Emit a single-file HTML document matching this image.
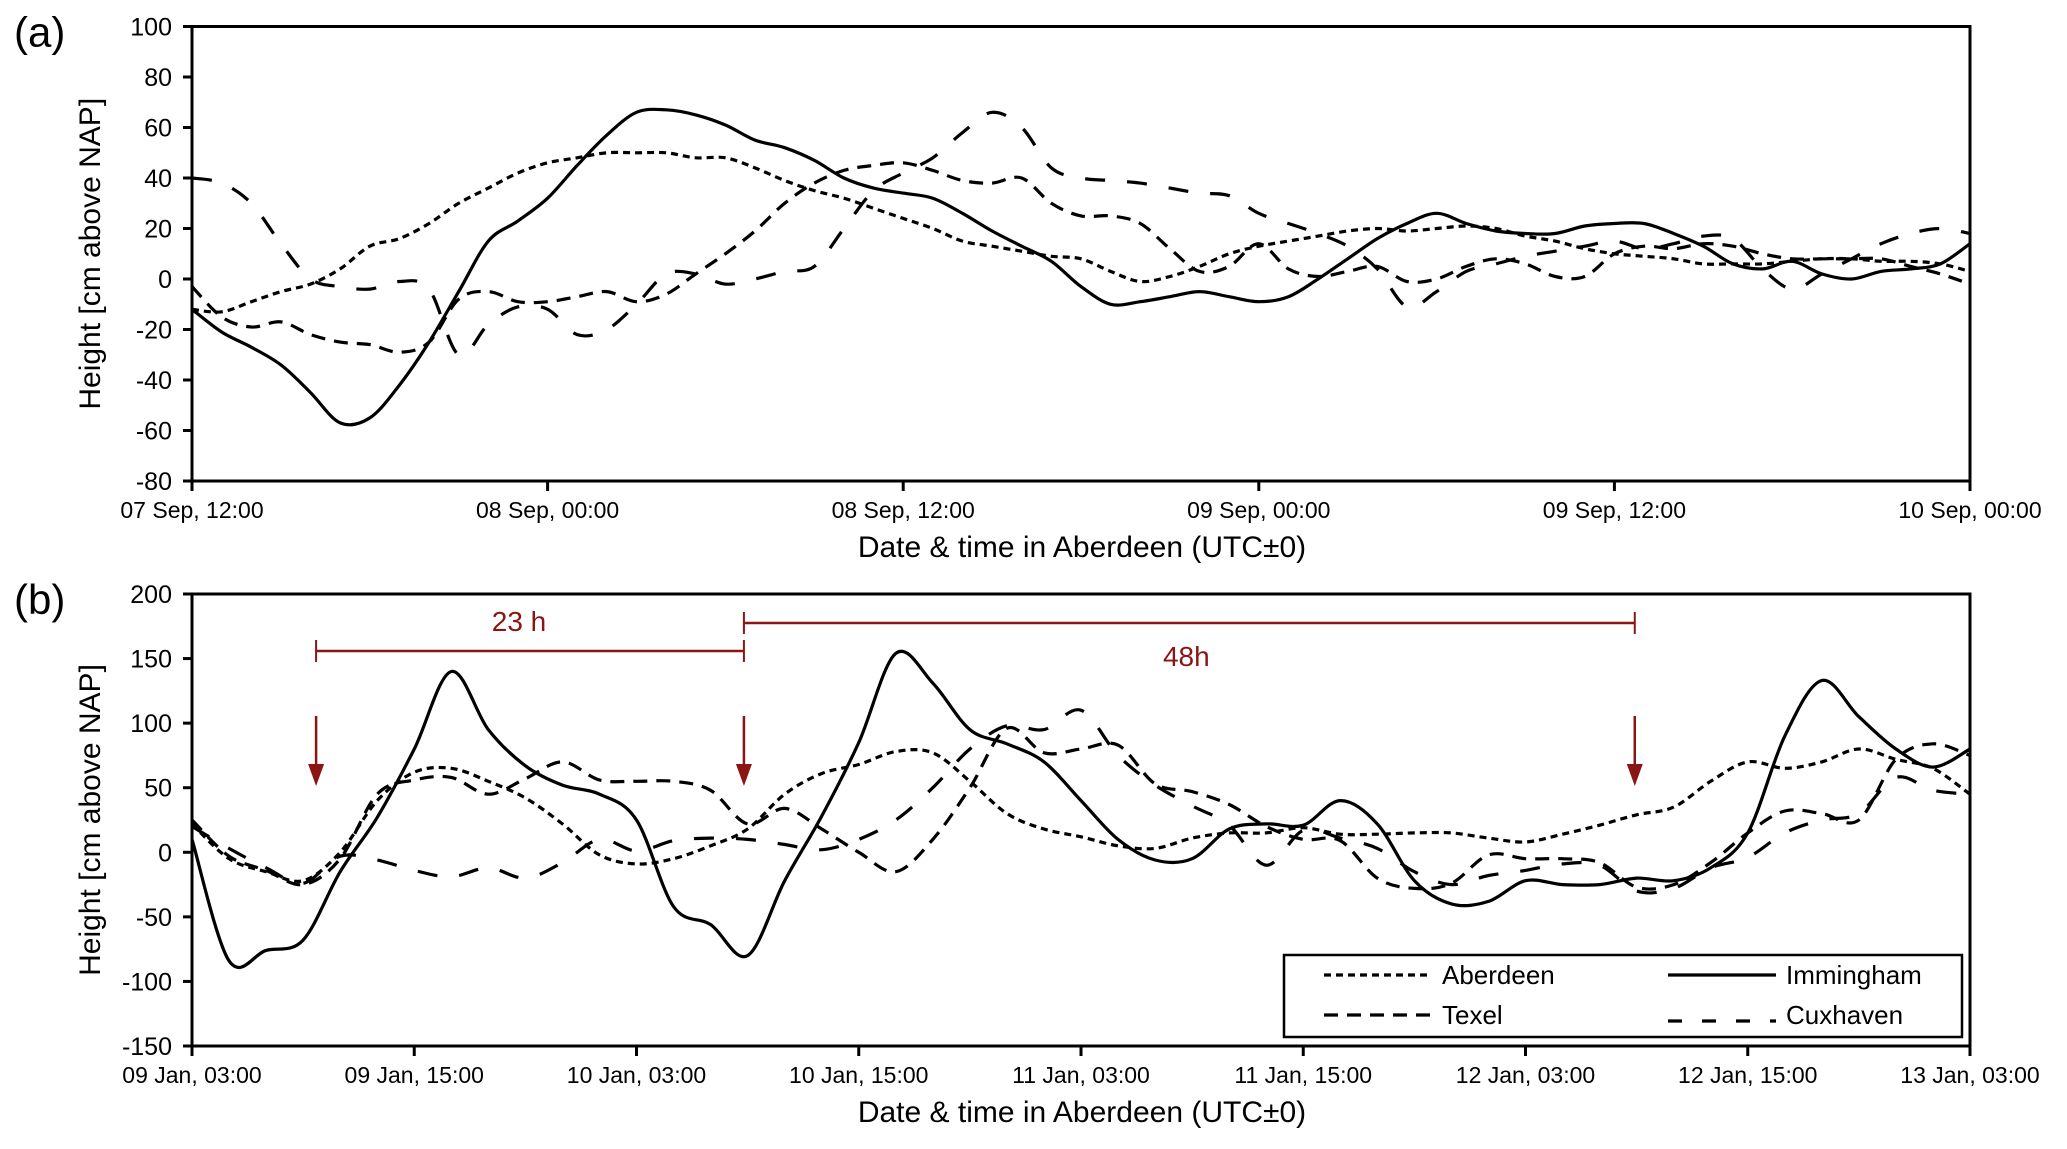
<!DOCTYPE html>
<html><head><meta charset="utf-8"><style>
body{margin:0;background:#fff}
svg text{font-family:"Liberation Sans",Arial,sans-serif}
</style></head><body>
<svg id="chart" width="2067" height="1144" viewBox="0 0 2067 1144" xmlns="http://www.w3.org/2000/svg">
<g id="gA"></g>
<g id="gB"></g>
</svg>
<script>
// Panel (a): hourly samples, hours since 07 Sep 12:00
const aLabels = ["07 Sep, 12:00","08 Sep, 00:00","08 Sep, 12:00","09 Sep, 00:00","09 Sep, 12:00","10 Sep, 00:00"];
const aYTicks = [100,80,60,40,20,0,-20,-40,-60,-80];
const aImmingham = [-12,-21,-27,-34,-45,-57,-55,-42,-25,-5,15,23,32,45,57,66,67,65,61,55,52,47,40,36,34,32,26,19,13,7,-3,-10,-9,-7,-5,-7,-9,-7,0,8,16,22,26,22,19,18,18,21,22,22,18,13,6,4,7,2,0,3,4,6,14];
const aAberdeen = [-12,-13,-9,-5,-2,4,13,16,22,30,36,42,46,48,50,50,50,48,48,44,39,35,32,28,24,20,15,13,11,9,8,3,-1,1,5,10,13,15,17,19,20,19,20,21,20,17,15,12,10,9,8,6,6,6,7,8,8,7,7,6,3];
const aTexel = [-3,-15,-19,-17,-22,-25,-26,-29,-25,-8,-5,-9,-9,-7,-5,-9,-6,2,10,19,30,38,43,45,46,43,39,38,40,30,25,25,22,12,3,5,14,4,1,3,5,-1,0,5,8,6,1,1,10,13,12,14,13,10,8,8,8,8,5,2,-2];
const aCuxhaven = [40,38,30,14,0,-3,-4,-1,-4,-30,-18,-11,-12,-22,-20,-10,2,2,-2,0,3,5,20,35,42,48,58,66,60,44,40,39,38,36,34,33,26,22,18,13,4,-11,-5,3,6,9,11,13,15,12,14,17,16,4,-4,2,8,14,18,20,18];
// Panel (b): 2-hour samples, hours since 09 Jan 03:00
const bLabels = ["09 Jan, 03:00","09 Jan, 15:00","10 Jan, 03:00","10 Jan, 15:00","11 Jan, 03:00","11 Jan, 15:00","12 Jan, 03:00","12 Jan, 15:00","13 Jan, 03:00"];
const bYTicks = [200,150,100,50,0,-50,-100,-150];
const bImmingham = [10,-84,-76,-68,-15,27,80,140,95,67,52,45,25,-42,-56,-80,-22,28,85,154,131,95,84,70,40,10,-6,-5,18,22,21,40,22,-22,-40,-38,-22,-25,-25,-20,-22,-12,15,90,133,105,80,66,80];
const bAberdeen = [22,-5,-15,-22,0,40,62,65,55,42,22,-2,-9,-5,5,18,45,61,68,78,77,55,30,18,12,5,3,11,15,15,19,14,14,15,15,11,8,14,21,29,35,55,70,65,70,80,72,65,45];
const bTexel = [25,-3,-14,-25,-5,45,56,58,45,57,70,56,55,55,48,22,34,18,0,-15,10,50,96,77,80,83,53,47,37,20,10,9,-20,-28,-24,-2,-5,-5,-8,-27,-25,-8,15,32,30,25,72,84,75];
const bCuxhaven = [20,3,-12,-24,-3,-6,-14,-19,-12,-20,-8,10,1,9,11,10,6,2,10,25,50,80,98,95,110,75,52,36,21,-10,17,11,3,-15,-25,-18,-14,-9,-10,-30,-28,-12,-4,15,25,30,58,48,45];
const bMarkers = [6.7,29.8,77.9];
const bSpans = [{from:6.7,to:29.8,label:"23 h"},{from:29.8,to:77.9,label:"48h"}];

const NS="http://www.w3.org/2000/svg";
const X0=192,X1=1970;
const styles={Aberdeen:"7 5",Texel:"14 9",Cuxhaven:"20 22",Immingham:""};
function mk(tag,attrs,parent,text){const e=document.createElementNS(NS,tag);for(const k in attrs)e.setAttribute(k,attrs[k]);if(text!==undefined)e.textContent=text;parent.appendChild(e);return e;}
function smooth(pts){let d=`M${pts[0][0].toFixed(1)},${pts[0][1].toFixed(1)}`;for(let i=0;i<pts.length-1;i++){const p0=pts[Math.max(0,i-1)],p1=pts[i],p2=pts[i+1],p3=pts[Math.min(pts.length-1,i+2)];const c1=[p1[0]+(p2[0]-p0[0])/6,p1[1]+(p2[1]-p0[1])/6],c2=[p2[0]-(p3[0]-p1[0])/6,p2[1]-(p3[1]-p1[1])/6];d+=`C${c1[0].toFixed(1)},${c1[1].toFixed(1)} ${c2[0].toFixed(1)},${c2[1].toFixed(1)} ${p2[0].toFixed(1)},${p2[1].toFixed(1)}`;}return d;}

function panel(g,cfg){
  const xs=h=>X0+(h/cfg.hours)*(X1-X0);
  const ys=v=>cfg.yTop+(cfg.vmax-v)/(cfg.vmax-cfg.vmin)*(cfg.yBot-cfg.yTop);
  for(const s of cfg.series){
    const pts=s.vals.map((v,i)=>[xs(i*cfg.step),ys(v)]);
    const p=mk("path",{d:smooth(pts),fill:"none",stroke:"#000","stroke-width":3.2,"stroke-dasharray":styles[s.name]},g);
    
    
  }
  const fr=mk("rect",{x:X0,y:cfg.yTop,width:X1-X0,height:cfg.yBot-cfg.yTop,fill:"none",stroke:"#000","stroke-width":3},g);
  
  cfg.yTicks.forEach(v=>{
    const y=ys(v);
    mk("line",{x1:X0-9,x2:X0,y1:y,y2:y,stroke:"#000","stroke-width":3},g);
    const t=mk("text",{x:X0-20,y:y+9,"font-size":25,"text-anchor":"end"},g,String(v));
    
  });
  const n=cfg.labels.length;
  cfg.labels.forEach((l,i)=>{
    const x=xs(i*cfg.hours/(n-1));
    mk("line",{x1:x,x2:x,y1:cfg.yBot,y2:cfg.yBot+10,stroke:"#000","stroke-width":3},g);
    const t=mk("text",{x:x,y:cfg.yBot+37,"font-size":23,"text-anchor":"middle"},g,l);
    
  });
  const xt=mk("text",{x:1082,y:cfg.yBot+76,"font-size":30,"text-anchor":"middle"},g,"Date & time in Aberdeen (UTC±0)");
  
  const cy=(cfg.yTop+cfg.yBot)/2;
  const yt=mk("text",{x:0,y:0,"font-size":30,"text-anchor":"middle",transform:`translate(100,${cy}) rotate(-90)`},g,"Height [cm above NAP]");
  
  const pl=mk("text",{x:14,y:cfg.yTop+20,"font-size":42},g,cfg.tag);
  
  return {xs,ys};
}
panel(document.getElementById("gA"),{hours:60,step:1,vmax:100,vmin:-80,yTop:26.5,yBot:481,labels:aLabels,yTicks:aYTicks,tag:"(a)",
  series:[{name:"Aberdeen",vals:aAberdeen},{name:"Texel",vals:aTexel},{name:"Cuxhaven",vals:aCuxhaven},{name:"Immingham",vals:aImmingham}]});
const gB=document.getElementById("gB");
const B=panel(gB,{hours:96,step:2,vmax:200,vmin:-150,yTop:594,yBot:1046,labels:bLabels,yTicks:bYTicks,tag:"(b)",
  series:[{name:"Aberdeen",vals:bAberdeen},{name:"Texel",vals:bTexel},{name:"Cuxhaven",vals:bCuxhaven},{name:"Immingham",vals:bImmingham}]});
const RED="#8b1414";
bMarkers.forEach(h=>{
  const x=B.xs(h);
  const a=mk("g",{},gB);
  
  mk("line",{x1:x,x2:x,y1:716,y2:767,stroke:RED,"stroke-width":2.5},a);
  mk("polygon",{points:`${x-8},764 ${x+8},764 ${x},786`,fill:RED},a);
});
bSpans.forEach((s,i)=>{
  const x1=B.xs(s.from),x2=B.xs(s.to),y=i===0?651:623;
  const g=mk("g",{},gB);
  
  mk("line",{x1:x1,x2:x2,y1:y,y2:y,stroke:RED,"stroke-width":2.5},g);
  mk("line",{x1:x1,x2:x1,y1:y-11,y2:y+11,stroke:RED,"stroke-width":2},g);
  mk("line",{x1:x2,x2:x2,y1:y-11,y2:y+11,stroke:RED,"stroke-width":2},g);
  const ty=i===0?631:666;
  mk("text",{x:(x1+x2)/2-(i===0?11:3),y:ty,"font-size":28,fill:RED,"text-anchor":"middle"},g,s.label);
});
const lg=mk("g",{},gB);

mk("rect",{x:1284,y:955,width:678,height:82,fill:"#fff",stroke:"#000","stroke-width":2.5},lg);
[["Aberdeen",1324,975],["Immingham",1668,975],["Texel",1324,1015],["Cuxhaven",1668,1015]].forEach(([n,x,y])=>{
  const e=mk("g",{},lg);
  
  mk("line",{x1:x,x2:x+108,y1:y+(n==="Cuxhaven"?6:0),y2:y+(n==="Cuxhaven"?6:0),stroke:"#000","stroke-width":3.2,"stroke-dasharray":n==="Cuxhaven"?"14 20":styles[n]},e);
  mk("text",{x:x+118,y:y+9,"font-size":26},e,n);
});
</script>
</body></html>
